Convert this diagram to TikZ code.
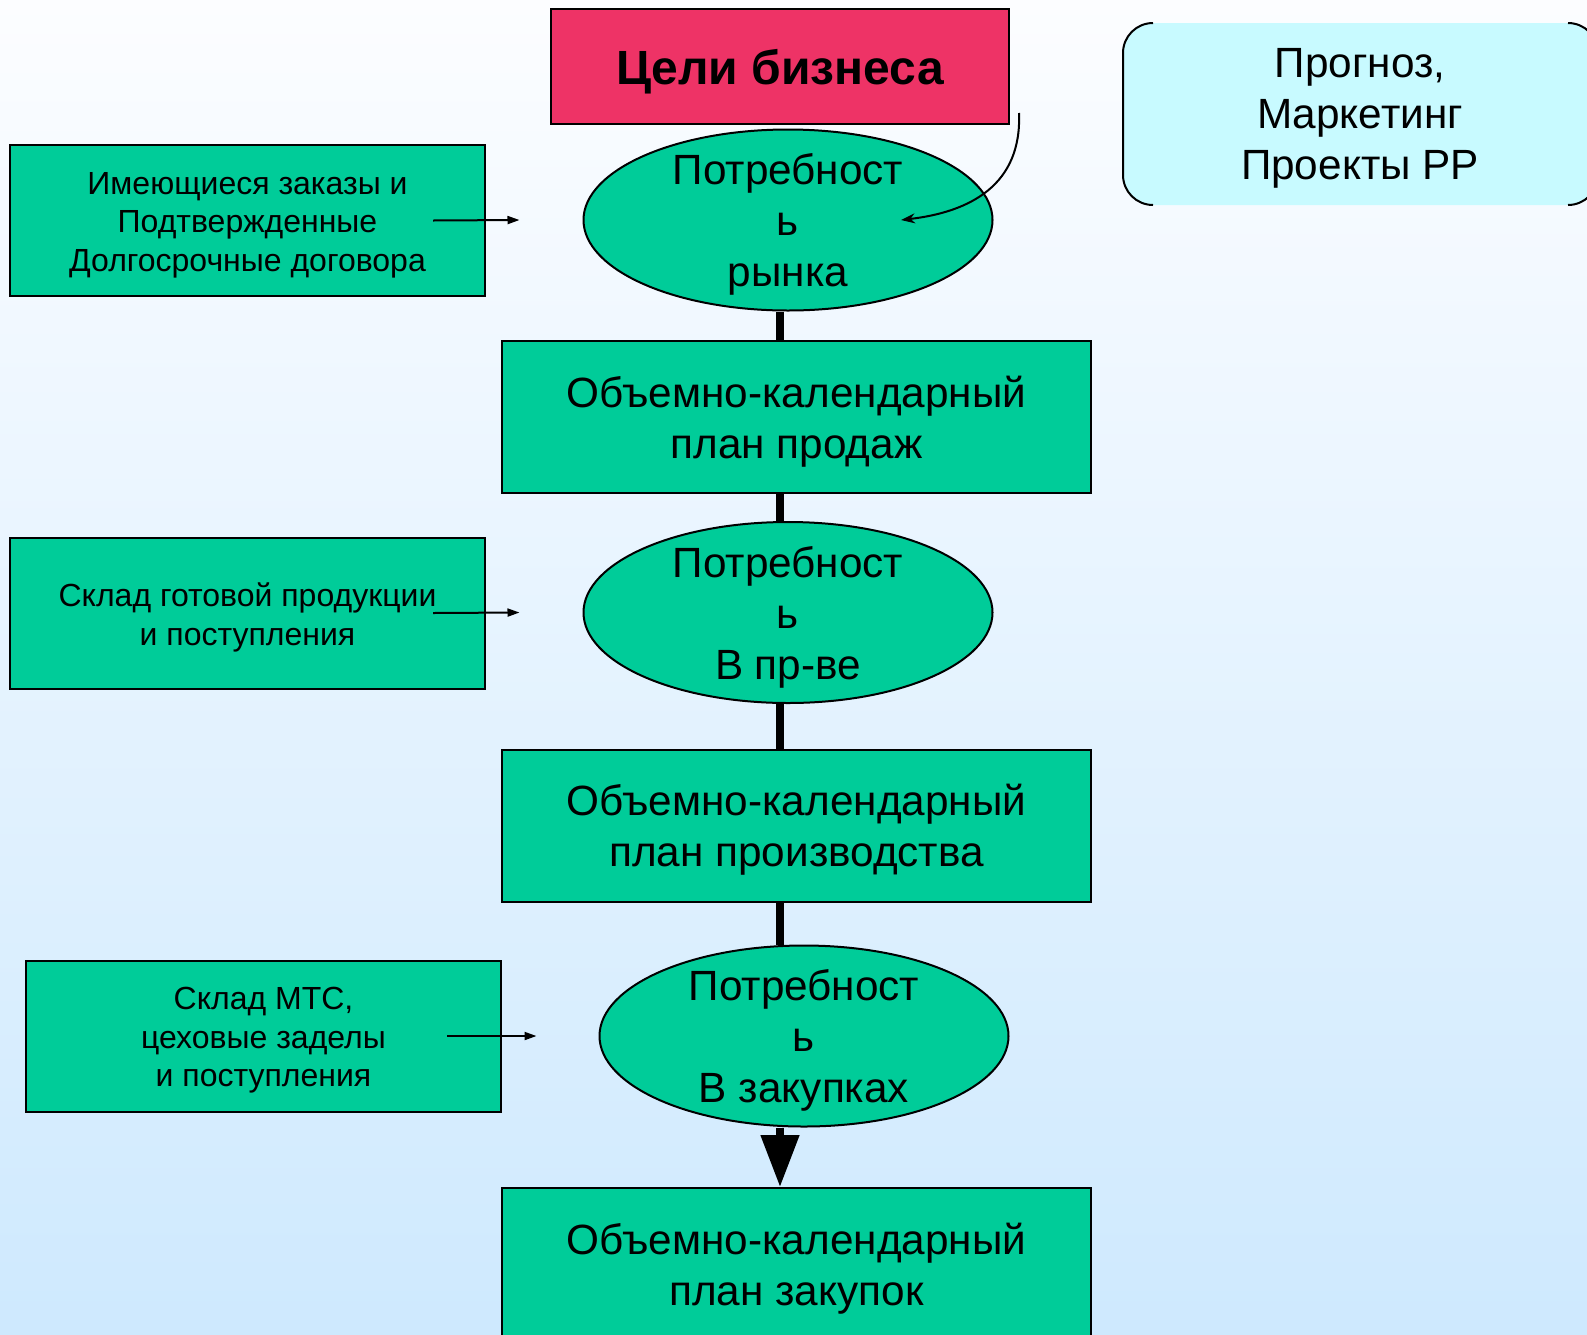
\documentclass[tikz,border=0pt]{standalone}
\usepackage{fontspec}
\setmainfont{Liberation Sans}
\usetikzlibrary{shapes.geometric,arrows.meta,calc}
\definecolor{bgtop}{RGB}{252,253,255}
\definecolor{bgbot}{RGB}{206,233,254}
\definecolor{flowgreen}{RGB}{0,204,153}
\definecolor{goalred}{RGB}{238,51,102}
\definecolor{forecastcyan}{RGB}{200,250,255}
\begin{document}
\begin{tikzpicture}[x=1pt,y=-1pt,
  outline/.style={draw=black,line width=2pt},
  planbox/.style={outline,rectangle,fill=flowgreen,minimum width=589pt,minimum height=152pt,inner sep=0pt},
  sourcebox/.style={outline,rectangle,fill=flowgreen,minimum width=475pt,minimum height=151pt,inner sep=0pt},
  needoval/.style={outline,ellipse,fill=flowgreen,minimum width=409pt,minimum height=181pt,inner sep=0pt},
  bigtext/.style={align=center,inner sep=0pt,yshift=-4.5pt,font=\fontsize{42.3}{51}\selectfont},
  smalltext/.style={align=center,inner sep=0pt,yshift=-4.5pt,font=\fontsize{32}{38.5}\selectfont},
  trunk/.style={line width=8pt},
  feed/.style={line width=2pt,-{Triangle[length=12pt,width=8pt]}}
]
\useasboundingbox (0,0) rectangle (1587,1334);
\shade[top color=bgtop,bottom color=bgbot] (0,0) rectangle (1587,1334);

% business goals
\node[outline,rectangle,fill=goalred,minimum width=458pt,minimum height=115pt,inner sep=0pt] (goal) at (780,66) {};
\node[inner sep=0pt,yshift=-6pt,font=\fontsize{48}{56}\selectfont\bfseries] (goalt) at (goal) {Цели бизнеса};

% forecast panel: filled rounded area with bracket outlines
\fill[forecastcyan,rounded corners=30pt] (1123,23) rectangle (1598,205);
\draw[line width=2pt,rounded corners=30pt] (1153,23) -- (1123,23) -- (1123,205) -- (1153,205);
\draw[line width=2pt,rounded corners=30pt] (1568,23) -- (1598,23) -- (1598,205) -- (1568,205);
\node[bigtext] (fc) at (1360,114) {Прогноз,\\Маркетинг\\Проекты РР};

% main chain
\node[needoval] (e1) at (788,220) {};
\node[bigtext] (e1t) at (e1) {Потребност\\ь\\рынка};
\node[planbox] (r2) at (796.5,417) {};
\node[bigtext] (r2t) at (r2) {Объемно-календарный\\план продаж};
\node[needoval] (e2) at (788,612.5) {};
\node[bigtext] (e2t) at (e2) {Потребност\\ь\\В пр-ве};
\node[planbox] (r3) at (796.5,825.5) {};
\node[bigtext] (r3t) at (r3) {Объемно-календарный\\план производства};
\node[needoval] (e3) at (804,1036) {};
\node[bigtext] (e3t) at (e3) {Потребност\\ь\\В закупках};
\node[planbox] (r4) at (796.5,1264) {};
\node[bigtext] (r4t) at (r4) {Объемно-календарный\\план закупок};

% side sources
\node[sourcebox] (b1) at (247.5,220.5) {};
\node[smalltext] (b1t) at (b1) {Имеющиеся заказы и\\Подтвержденные\\Долгосрочные договора};
\node[sourcebox] (b2) at (247.5,613) {};
\node[smalltext] (b2t) at (b2) {Склад готовой продукции\\и поступления};
\node[sourcebox] (b3) at (263.5,1036) {};
\node[smalltext] (b3t) at (b3) {Склад МТС,\\цеховые заделы\\и поступления};

% trunk connectors
\draw[trunk] ([xshift=-8pt]e1.south) -- ([xshift=-8pt]e1.south |- r2.north);
\draw[trunk] ([xshift=-8pt]e1.south |- r2.south) -- ([xshift=-8pt]e2.north);
\draw[trunk] ([xshift=-8pt]e2.south) -- ([xshift=-8pt]e2.south |- r3.north);
\draw[trunk] ([xshift=-8pt]e2.south |- r3.south) -- ([xshift=-24pt]e3.north);
\draw[trunk,-{Triangle[length=52pt,width=37pt]}] ([xshift=-24pt]e3.south) -- ([xshift=-24pt]e3.south |- r4.north);

% feeds from the side boxes
\draw[feed] ($(b1.east)+(-53,0)$) -- ($(e1.west)+(-63,0)$);
\draw[feed] ($(b2.east)+(-53,0)$) -- ($(e2.west)+(-63,0)$);
\draw[feed] ($(b3.east)+(-55,0)$) -- ($(e3.west)+(-62,0)$);

% forecast feed into market demand
\coordinate (fcin) at (1019,113);
\draw[line width=2pt,-{Stealth[length=14pt,width=10pt]}] (fcin) .. controls (1022,185) and (970,212) .. ($(e1.center)+(113,0)$);
\end{tikzpicture}
\end{document}
